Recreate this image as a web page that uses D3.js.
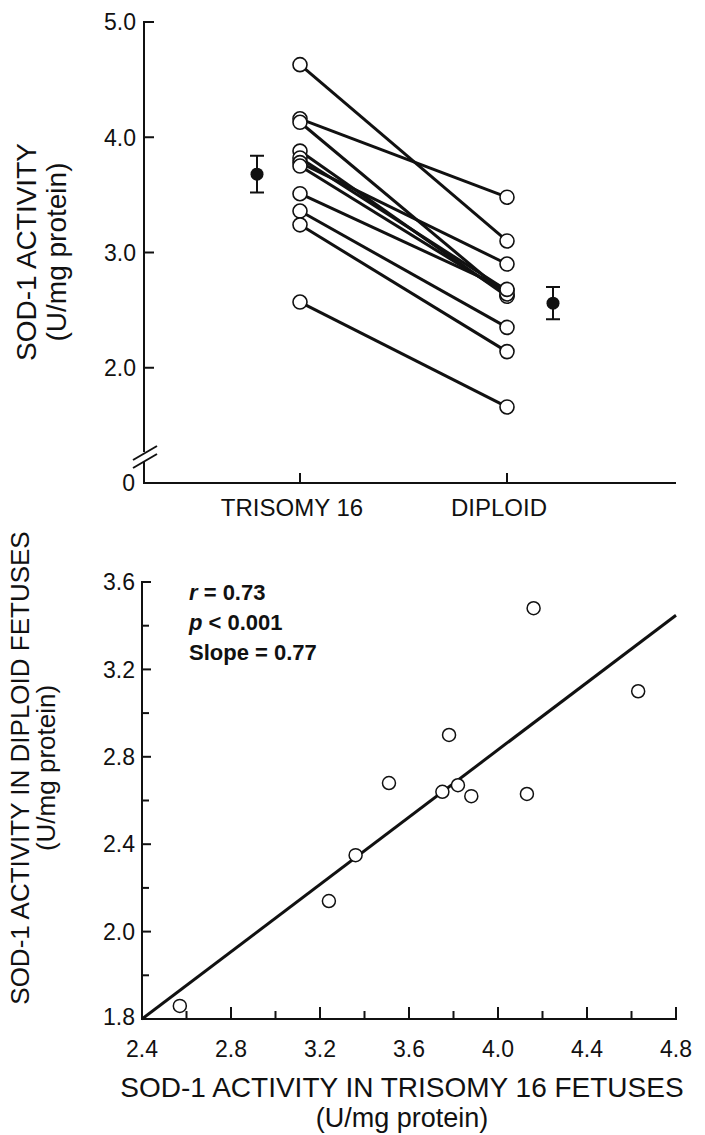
<!DOCTYPE html>
<html>
<head>
<meta charset="utf-8">
<script src="https://cdn.jsdelivr.net/npm/d3@7"></script>
<style>
    body { margin: 0; background: #fff; }
    svg text { font-family: "Liberation Sans", Arial, Helvetica, sans-serif; fill: #111; }
</style>
</head>
<body>
<div id="chart"></div>
<script>
// paired SOD-1 activity (U/mg protein), one entry per litter pair
const trisomyValues = [4.63, 4.16, 4.13, 3.88, 3.82, 3.78, 3.75, 3.51, 3.36, 3.24, 2.57];
const diploidValues = [3.10, 3.48, 2.63, 2.62, 2.67, 2.90, 2.64, 2.68, 2.35, 2.14, 1.66];

const groups = ['TRISOMY 16', 'DIPLOID'];
const groupMeans = [3.68, 2.56];
const groupErr = [0.16, 0.14];

const topTicks = [2.0, 3.0, 4.0, 5.0];
const scatterXTicks = [2.4, 2.8, 3.2, 3.6, 4.0, 4.4, 4.8];
const scatterYTicks = [1.6, 2.0, 2.4, 2.8, 3.2, 3.6];
const scatterYLabels = ['1.8', '2.0', '2.4', '2.8', '3.2', '3.6'];
const statLines = [['r', ' = 0.73'], ['p', ' < 0.001'], ['', 'Slope = 0.77']];
const regSlope = 0.77;
const regIntercept = -0.248;

const width = 705;
const height = 1135;
const tickFont = '23px';

const svg = d3.select('#chart')
    .append('svg')
    .attr('width', width)
    .attr('height', height);

// ---------- top panel: paired lines ----------
const topLeft = 144;
const topRight = 676;
const yTop = d3.scaleLinear().domain([1.0, 5.0]).range([483, 22]);
const xTop = d3.scalePoint().domain(groups).range([300, 507]);
const meanOffset = [-43, 46];

const topG = svg.append('g');

// y axis line with a break near the bottom
topG.append('path')
    .attr('d', `M${topLeft + 10},${yTop(5.0)}H${topLeft}V452M${topLeft},462V${yTop(1.0)}H${topRight}`)
    .attr('fill', 'none')
    .attr('stroke', '#111')
    .attr('stroke-width', 2);

[0, 8].forEach(off => {
    topG.append('line')
        .attr('x1', topLeft - 11).attr('y1', 460 + off)
        .attr('x2', topLeft + 13).attr('y2', 446 + off)
        .attr('stroke', '#111')
        .attr('stroke-width', 2);
});

topG.selectAll('.ytick')
    .data(topTicks)
    .enter()
    .append('line')
    .attr('x1', topLeft).attr('x2', topLeft + 10)
    .attr('y1', d => yTop(d)).attr('y2', d => yTop(d))
    .attr('stroke', '#111')
    .attr('stroke-width', 2);

topG.selectAll('.ylab')
    .data(topTicks)
    .enter()
    .append('text')
    .attr('x', topLeft - 8)
    .attr('y', d => yTop(d))
    .attr('dy', '0.36em')
    .attr('text-anchor', 'end')
    .style('font-size', tickFont)
    .text(d => d.toFixed(1));

topG.append('text')
    .attr('x', topLeft - 9)
    .attr('y', yTop(1.0))
    .attr('dy', '0.36em')
    .attr('text-anchor', 'end')
    .style('font-size', tickFont)
    .text('0');

// category ticks and labels
topG.selectAll('.xtick')
    .data(groups)
    .enter()
    .append('line')
    .attr('x1', d => xTop(d)).attr('x2', d => xTop(d))
    .attr('y1', yTop(1.0)).attr('y2', yTop(1.0) - 10)
    .attr('stroke', '#111')
    .attr('stroke-width', 2);

topG.selectAll('.xlab')
    .data(groups)
    .enter()
    .append('text')
    .attr('x', d => xTop(d) - 8)
    .attr('y', yTop(1.0) + 33)
    .attr('text-anchor', 'middle')
    .style('font-size', '24px')
    .text(d => d);

// axis title
const topTitle = topG.append('text')
    .attr('transform', `translate(42,252) rotate(-90)`)
    .attr('text-anchor', 'middle')
    .style('font-size', '28px');
topTitle.append('tspan').attr('x', 0).attr('dy', '-0.2em').text('SOD-1 ACTIVITY');
topTitle.append('tspan').attr('x', 0).attr('dy', '1.05em').text('(U/mg protein)');

// pair lines
const pairs = trisomyValues.map((t, i) => ({ t: t, d: diploidValues[i] }));

topG.selectAll('.pair')
    .data(pairs)
    .enter()
    .append('line')
    .attr('x1', xTop(groups[0])).attr('y1', d => yTop(d.t))
    .attr('x2', xTop(groups[1])).attr('y2', d => yTop(d.d))
    .attr('stroke', '#111')
    .attr('stroke-width', 3);

topG.selectAll('.tcirc')
    .data(pairs)
    .enter()
    .append('circle')
    .attr('cx', xTop(groups[0]))
    .attr('cy', d => yTop(d.t))
    .attr('r', 7)
    .attr('fill', '#fff')
    .attr('stroke', '#111')
    .attr('stroke-width', 1.6);

topG.selectAll('.dcirc')
    .data(pairs)
    .enter()
    .append('circle')
    .attr('cx', xTop(groups[1]))
    .attr('cy', d => yTop(d.d))
    .attr('r', 7)
    .attr('fill', '#fff')
    .attr('stroke', '#111')
    .attr('stroke-width', 1.6);

// group means with error bars
groups.forEach((g, i) => {
    const cx = xTop(g) + meanOffset[i];
    const hi = yTop(groupMeans[i] + groupErr[i]);
    const lo = yTop(groupMeans[i] - groupErr[i]);
    topG.append('path')
        .attr('d', `M${cx - 7},${hi}H${cx + 7}M${cx},${hi}V${lo}M${cx - 7},${lo}H${cx + 7}`)
        .attr('fill', 'none')
        .attr('stroke', '#111')
        .attr('stroke-width', 2);
    topG.append('circle')
        .attr('cx', cx)
        .attr('cy', yTop(groupMeans[i]))
        .attr('r', 6.5)
        .attr('fill', '#111');
});

// ---------- bottom panel: scatter ----------
const xSc = d3.scaleLinear().domain([2.4, 4.8]).range([142, 676]);
const ySc = d3.scaleLinear().domain([1.6, 3.6]).range([1019, 582]);

const bot = svg.append('g');

bot.append('path')
    .attr('d', `M${xSc(2.4) + 9},${ySc(3.6)}H${xSc(2.4)}V${ySc(1.6)}H${xSc(4.8)}V${ySc(1.6) - 12}`)
    .attr('fill', 'none')
    .attr('stroke', '#111')
    .attr('stroke-width', 2);

const xMinor = d3.range(2.6, 4.7, 0.4);
const yMinor = d3.range(1.8, 3.5, 0.4);

bot.selectAll('.xmaj')
    .data(scatterXTicks.slice(1, -1))
    .enter()
    .append('line')
    .attr('x1', d => xSc(d)).attr('x2', d => xSc(d))
    .attr('y1', ySc(1.6)).attr('y2', ySc(1.6) - 12)
    .attr('stroke', '#111').attr('stroke-width', 2);

bot.selectAll('.xmin')
    .data(xMinor)
    .enter()
    .append('line')
    .attr('x1', d => xSc(d)).attr('x2', d => xSc(d))
    .attr('y1', ySc(1.6)).attr('y2', ySc(1.6) - 8)
    .attr('stroke', '#111').attr('stroke-width', 2);

bot.selectAll('.ymaj')
    .data(scatterYTicks.slice(1))
    .enter()
    .append('line')
    .attr('x1', xSc(2.4)).attr('x2', xSc(2.4) + 9)
    .attr('y1', d => ySc(d)).attr('y2', d => ySc(d))
    .attr('stroke', '#111').attr('stroke-width', 2);

bot.selectAll('.ymin')
    .data(yMinor)
    .enter()
    .append('line')
    .attr('x1', xSc(2.4)).attr('x2', xSc(2.4) + 7)
    .attr('y1', d => ySc(d)).attr('y2', d => ySc(d))
    .attr('stroke', '#111').attr('stroke-width', 2);

bot.selectAll('.xlab')
    .data(scatterXTicks)
    .enter()
    .append('text')
    .attr('x', d => xSc(d))
    .attr('y', ySc(1.6) + 38)
    .attr('text-anchor', 'middle')
    .style('font-size', tickFont)
    .text(d => d.toFixed(1));

bot.selectAll('.ylab')
    .data(scatterYTicks)
    .enter()
    .append('text')
    .attr('x', xSc(2.4) - 7)
    .attr('y', (d, i) => ySc(d) - (i === 0 ? 2 : 0))
    .attr('dy', '0.36em')
    .attr('text-anchor', 'end')
    .style('font-size', tickFont)
    .text((d, i) => scatterYLabels[i]);

// x axis title, two separate lines
bot.append('text')
    .attr('x', 402)
    .attr('y', 1097)
    .attr('text-anchor', 'middle')
    .style('font-size', '28px')
    .text('SOD-1 ACTIVITY IN TRISOMY 16 FETUSES');
bot.append('text')
    .attr('x', 402)
    .attr('y', 1127)
    .attr('text-anchor', 'middle')
    .style('font-size', '27px')
    .text('(U/mg protein)');

const yTitle = bot.append('text')
    .attr('transform', 'translate(34,768) rotate(-90)')
    .attr('text-anchor', 'middle')
    .style('font-size', '26px');
yTitle.append('tspan').attr('x', 0).attr('dy', '-0.2em').text('SOD-1 ACTIVITY IN DIPLOID FETUSES');
yTitle.append('tspan').attr('x', 0).attr('dy', '1.0em').text('(U/mg protein)');

// regression line
bot.append('line')
    .attr('x1', xSc(2.4)).attr('y1', ySc(regIntercept + regSlope * 2.4))
    .attr('x2', xSc(4.8)).attr('y2', ySc(regIntercept + regSlope * 4.8))
    .attr('stroke', '#111')
    .attr('stroke-width', 3);

bot.selectAll('.pt')
    .data(pairs)
    .enter()
    .append('circle')
    .attr('cx', d => xSc(d.t))
    .attr('cy', d => ySc(d.d))
    .attr('r', 6.5)
    .attr('fill', '#fff')
    .attr('stroke', '#111')
    .attr('stroke-width', 1.5);

// stats text
const stats = bot.selectAll('.stat')
    .data(statLines)
    .enter()
    .append('text')
    .attr('x', 189)
    .attr('y', (d, i) => 600 + i * 30)
    .style('font-size', '22px')
    .style('font-weight', 'bold');
stats.append('tspan').style('font-style', 'italic').text(d => d[0]);
stats.append('tspan').text(d => d[1]);
</script>
</body>
</html>
